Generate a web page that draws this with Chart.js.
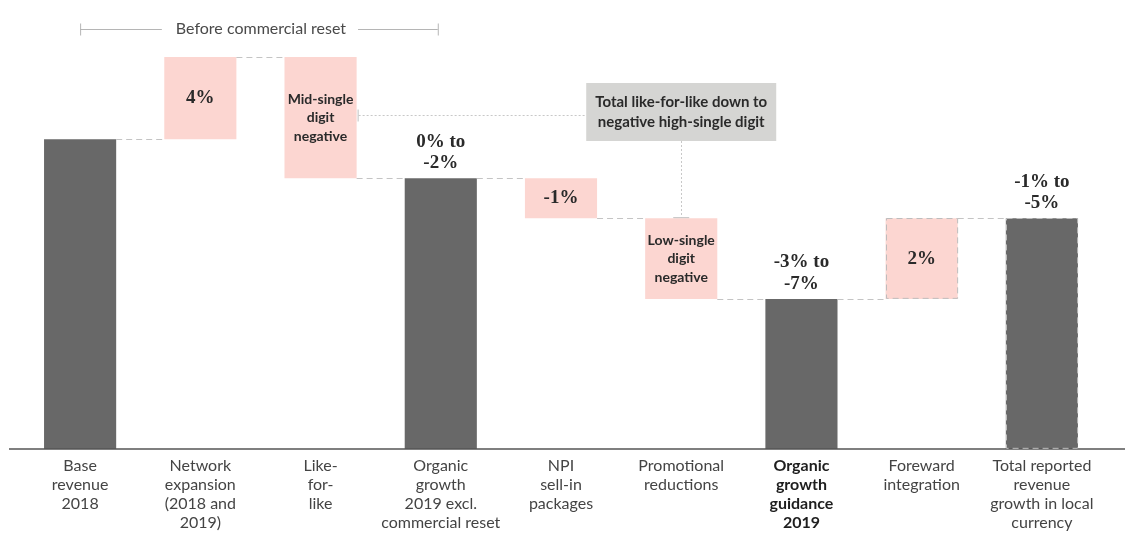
<!DOCTYPE html>
<html>
<head>
<meta charset="utf-8">
<script src="https://cdn.jsdelivr.net/npm/chart.js@4.4.1/dist/chart.umd.min.js"></script>
<style>
  html, body { margin: 0; padding: 0; background: #ffffff; }
  #wrap { width: 1133px; height: 534px; position: relative; }
</style>
</head>
<body>
<div id="wrap"><canvas id="c"></canvas></div>
<script>
// ---- data (index units, base revenue 2018 = 100) ----
const categories = [
  ["Base", "revenue", "2018"],
  ["Network", "expansion", "(2018 and", "2019)"],
  ["Like-", "for-", "like"],
  ["Organic", "growth", "2019 excl.", "commercial reset"],
  ["NPI", "sell-in", "packages"],
  ["Promotional", "reductions"],
  ["Organic", "growth", "guidance", "2019"],
  ["Foreward", "integration"],
  ["Total reported", "revenue", "growth in local", "currency"]
];
const barFrom = [0, 100, 126.5, 0, 87.4, 74.5, 0, 48.4, 0];
const barTo   = [100, 126.5, 87.4, 87.4, 74.5, 48.4, 48.4, 74.5, 74.5];
const barKind = ["total", "delta", "delta", "total", "delta", "delta", "total", "delta", "total"];
const valueLabels = [
  null,
  ["4%"],
  ["Mid-single", "digit", "negative"],
  ["0% to", "-2%"],
  ["-1%"],
  ["Low-single", "digit", "negative"],
  ["-3% to", "-7%"],
  ["2%"],
  ["-1% to", "-5%"]
];
const boldCategoryIndex = 6;
const dashedOutlineBars = [7, 8];
const bracketTitle = "Before commercial reset";
const bracketFromIndex = 0, bracketToIndex = 3;
const annotationText = ["Total like-for-like down to", "negative high-single digit"];
const annotationFromIndex = 2, annotationToIndex = 5;

// ---- styles ----
const DARK = "#686868";
const PINK = "#fcd6d1";
const SANS = "Lato, 'Open Sans', sans-serif";
const SERIF = "'Liberation Serif', 'DejaVu Serif', serif";

const tableData = barFrom.map((f, i) => [f, barTo[i]]);

const waterfallPlugin = {
  id: "waterfall",
  afterDatasetsDraw(chart) {
    const ctx = chart.ctx;
    const meta = chart.getDatasetMeta(0);
    const ys = chart.scales.y;
    ctx.save();
    // baseline
    ctx.strokeStyle = "#555555";
    ctx.lineWidth = 1.5;
    ctx.beginPath();
    ctx.moveTo(9, ys.getPixelForValue(0));
    ctx.lineTo(1125, ys.getPixelForValue(0));
    ctx.stroke();

    // connectors
    ctx.strokeStyle = "#c4c4c4";
    ctx.lineWidth = 1;
    ctx.setLineDash([6, 4]);
    for (let i = 0; i < meta.data.length - 1; i++) {
      const a = meta.data[i], b = meta.data[i + 1];
      const y = Math.round(ys.getPixelForValue(barTo[i])) + 0.5;
      ctx.beginPath();
      ctx.moveTo(a.x + a.width / 2, y);
      ctx.lineTo(b.x - b.width / 2, y);
      ctx.stroke();
    }
    // dashed outlines
    ctx.strokeStyle = "#bdbdbd";
    dashedOutlineBars.forEach(i => {
      const el = meta.data[i];
      const top = Math.min(el.y, el.base), bot = Math.max(el.y, el.base);
      ctx.strokeRect(Math.round(el.x - el.width / 2) + 0.5, Math.round(top) + 0.5, el.width - 1, bot - top - 1);
    });
    ctx.setLineDash([]);

    // value labels
    ctx.textAlign = "center";
    ctx.textBaseline = "middle";
    meta.data.forEach((el, i) => {
      const lines = valueLabels[i];
      if (!lines) return;
      const isPct = lines.join(" ").indexOf("%") >= 0;
      const fs = isPct ? 19 : 14;
      const lh = isPct ? 21.5 : 18.5;
      ctx.font = "bold " + fs + "px " + (isPct ? SERIF : SANS);
      ctx.fillStyle = "#2a2a2a";
      const top = Math.min(el.y, el.base), bot = Math.max(el.y, el.base);
      let startY;
      if (barKind[i] === "delta") {
        const mid = (top + bot) / 2;
        startY = mid - (lines.length - 1) * lh / 2;
      } else {
        startY = top - 15 - (lines.length - 1) * lh;
      }
      lines.forEach((t, k) => ctx.fillText(t, el.x, startY + k * lh));
    });
    ctx.restore();
  },
  afterDraw(chart) {
    const ctx = chart.ctx;
    const xs = chart.scales.x;
    const meta = chart.getDatasetMeta(0);
    ctx.save();
    // bracket
    const bx0 = xs.getPixelForValue(bracketFromIndex);
    const bx1 = xs.getPixelForValue(bracketToIndex) - 3;
    const by = 29.5;
    ctx.font = "16px " + SANS;
    const tw = ctx.measureText(bracketTitle).width;
    const bmid = (bx0 + bx1) / 2 + 2;
    ctx.strokeStyle = "#b5b5b5";
    ctx.lineWidth = 1;
    ctx.beginPath();
    ctx.moveTo(bx0, by); ctx.lineTo(bmid - tw / 2 - 14, by);
    ctx.moveTo(bmid + tw / 2 + 12, by); ctx.lineTo(bx1, by);
    ctx.moveTo(bx0 + 0.5, by - 6); ctx.lineTo(bx0 + 0.5, by + 6);
    ctx.moveTo(bx1 + 0.5, by - 6); ctx.lineTo(bx1 + 0.5, by + 6);
    ctx.stroke();
    ctx.fillStyle = "#4a4a4a";
    ctx.textAlign = "center";
    ctx.textBaseline = "middle";
    ctx.fillText(bracketTitle, bmid, by - 1);

    // annotation box
    const cx = xs.getPixelForValue(annotationToIndex);
    const bw = 190, bTop = 83, bH = 58;
    ctx.fillStyle = "#d5d5d3";
    ctx.fillRect(cx - bw / 2, bTop, bw, bH);
    ctx.fillStyle = "#2a2a2a";
    ctx.font = "bold 15px " + SANS;
    ctx.fillText(annotationText[0], cx, bTop + 19);
    ctx.fillText(annotationText[1], cx, bTop + 39);

    // dotted connectors
    const lfl = meta.data[annotationFromIndex];
    const promo = meta.data[annotationToIndex];
    const ly = 115.5;
    ctx.strokeStyle = "#c8c8c8";
    ctx.lineWidth = 1;
    ctx.setLineDash([2, 2]);
    ctx.beginPath();
    ctx.moveTo(lfl.x + lfl.width / 2 + 2, ly);
    ctx.lineTo(cx - bw / 2, ly);
    const pTop = Math.min(promo.y, promo.base);
    ctx.moveTo(Math.round(cx) + 0.5, bTop + bH);
    ctx.lineTo(Math.round(cx) + 0.5, pTop - 1);
    ctx.stroke();
    ctx.setLineDash([]);
    ctx.strokeStyle = "#c0c0c0";
    ctx.beginPath();
    ctx.moveTo(lfl.x + lfl.width / 2 + 1.5, ly - 6);
    ctx.lineTo(lfl.x + lfl.width / 2 + 1.5, ly + 6);
    ctx.moveTo(cx - 8, pTop - 0.5);
    ctx.lineTo(cx + 8, pTop - 0.5);
    ctx.stroke();
    ctx.restore();
  }
};

new Chart(document.getElementById("c"), {
  type: "bar",
  data: {
    labels: categories,
    datasets: [{
      data: tableData,
      backgroundColor: barKind.map(k => k === "total" ? DARK : PINK),
      borderWidth: 0,
      barPercentage: 0.6,
      categoryPercentage: 1.0
    }]
  },
  options: {
    responsive: true,
    maintainAspectRatio: false,
    animation: false,
    layout: { padding: { top: 40, left: 20, right: 31, bottom: 0 } },
    plugins: { legend: { display: false }, tooltip: { enabled: false } },
    scales: {
      x: {
        grid: { display: false, drawTicks: false },
        border: { display: false },
        afterFit: (s) => { s.height = 85; },
        ticks: {
          autoSkip: false,
          maxRotation: 0,
          padding: 7,
          color: (c) => c.index === boldCategoryIndex ? "#1e1e1e" : "#444444",
          font: (c) => ({ family: SANS, size: 16, lineHeight: 1.19, weight: c.index === boldCategoryIndex ? "bold" : "normal" })
        }
      },
      y: { display: false, min: 0, max: 132 }
    }
  },
  plugins: [waterfallPlugin]
});
</script>
</body>
</html>
